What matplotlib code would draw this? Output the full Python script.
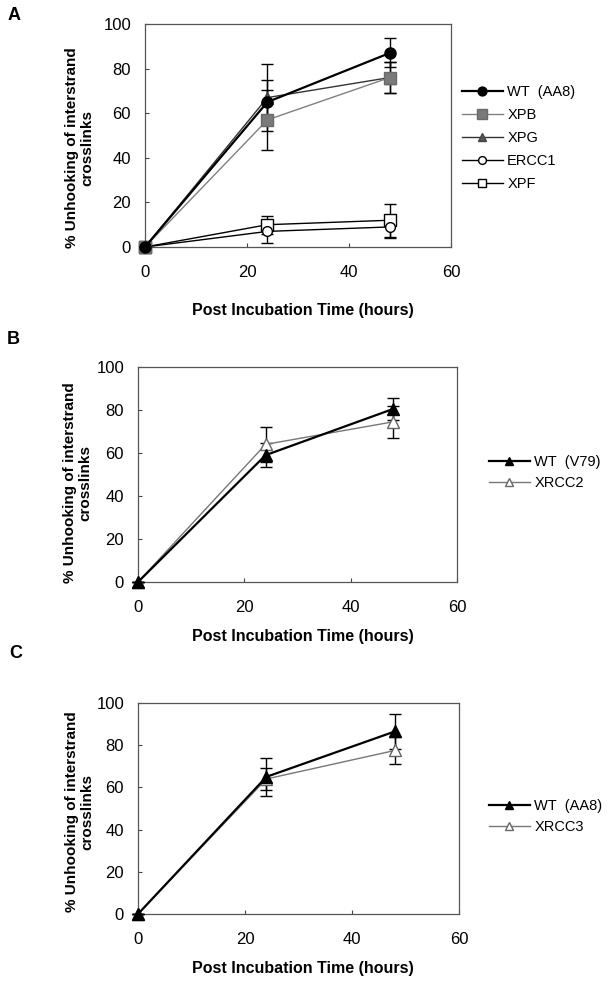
import matplotlib
matplotlib.use('Agg')
import matplotlib.pyplot as plt

plt.rcParams['font.family'] = ['Liberation Sans', 'DejaVu Sans']

# time points (hours)
time = [0, 24, 48]

# panel A
wt_aa8 = [0, 65, 87]
wt_aa8_err = [0, 10, 6.5]
xpb = [0, 57, 76]
xpb_err = [0, 13.5, 7]
xpg = [0, 67, 76]
xpg_err = [0, 15, 7]
ercc1 = [0, 7, 9]
ercc1_err = [0, 5, 5]
xpf = [0, 10, 12]
xpf_err = [0, 4, 7.5]

# panel B
wt_v79 = [0, 59, 80.5]
wt_v79_err = [0, 5.5, 5]
xrcc2 = [0, 64, 74.5]
xrcc2_err = [0, 8, 7.5]

# panel C
wt_aa8_c = [0, 65, 86.5]
wt_aa8_c_err = [0, 9, 8.5]
xrcc3 = [0, 64, 77.5]
xrcc3_err = [0, 5, 6.5]

W, H = 609, 997
fig = plt.figure(figsize=(W / 100, H / 100), dpi=100)


def px_axes(left, top, right, bottom):
    return fig.add_axes([left / W, 1 - bottom / H, (right - left) / W, (bottom - top) / H])


def style(ax):
    ax.set_xlim(0, 60)
    ax.set_ylim(0, 100)
    ax.set_xticks([0, 20, 40, 60])
    ax.set_yticks([0, 20, 40, 60, 80, 100])
    ax.tick_params(direction='in', length=3, width=0.8, labelsize=12, color='#444444')
    ax.tick_params(axis='x', pad=13)
    ax.tick_params(axis='y', pad=10)
    for s in ax.spines.values():
        s.set_color('#555555')
        s.set_linewidth(0.9)


def series(ax, y, err, marker, mfc, mec, lc, lw, ms, label):
    ax.errorbar(time, y, yerr=err, color=lc, lw=lw, marker=marker, ms=ms,
                mfc=mfc, mec=mec, mew=1.0, ecolor='black', elinewidth=1.0,
                capsize=4, capthick=1.0, label=label, clip_on=False, zorder=3)


def legend(ax, handles, names, x, y, spacing):
    ax.legend(handles, names, loc='upper left',
              bbox_to_anchor=(x / W, 1 - y / H), bbox_transform=fig.transFigure,
              frameon=False, fontsize=10.5, borderpad=0, borderaxespad=0,
              handlelength=2.8, handletextpad=0.3, labelspacing=spacing,
              markerscale=0.8)


def labels(ax, ylab_x, ylab_y, xlab_y):
    fig.text(ylab_x / W, 1 - ylab_y / H, '% Unhooking of interstrand\ncrosslinks',
             rotation=90, ha='center', va='center', multialignment='center',
             fontsize=11, fontweight='bold', linespacing=1.15)
    fig.text(303 / W, 1 - xlab_y / H, 'Post Incubation Time (hours)',
             ha='center', va='center', fontsize=11.5, fontweight='bold')


# ---------------- A ----------------
axA = px_axes(145, 24, 451, 247)
style(axA)
series(axA, xpf, xpf_err, 's', 'white', 'black', 'black', 1.0, 8, 'XPF')
series(axA, ercc1, ercc1_err, 'o', 'white', 'black', 'black', 1.0, 7, 'ERCC1')
series(axA, xpg, xpg_err, '^', '#555555', '#444444', '#333333', 1.0, 8, 'XPG')
series(axA, xpb, xpb_err, 's', '#7a7a7a', '#6a6a6a', '#808080', 1.0, 9, 'XPB')
series(axA, wt_aa8, wt_aa8_err, 'o', 'black', 'black', 'black', 1.6, 8, 'WT  (AA8)')
h, l = axA.get_legend_handles_labels()
order = [4, 3, 2, 1, 0]
legend(axA, [h[i][0] for i in order], [l[i] for i in order], 462, 85, 0.62)
labels(axA, 80, 148, 310)
fig.text(8 / W, 1 - 16 / H, 'A', fontsize=13, fontweight='bold', va='center')

# ---------------- B ----------------
axB = px_axes(138, 367, 457, 582)
style(axB)
series(axB, xrcc2, xrcc2_err, '^', 'white', '#666666', '#777777', 1.0, 8, 'XRCC2')
series(axB, wt_v79, wt_v79_err, '^', 'black', 'black', 'black', 1.6, 8, 'WT  (V79)')
h, l = axB.get_legend_handles_labels()
legend(axB, [h[1][0], h[0][0]], [l[1], l[0]], 489, 455, 0.5)
labels(axB, 78, 483, 637)
fig.text(7 / W, 1 - 340 / H, 'B', fontsize=13, fontweight='bold', va='center')

# ---------------- C ----------------
axC = px_axes(138, 703, 459, 914)
style(axC)
series(axC, xrcc3, xrcc3_err, '^', 'white', '#666666', '#777777', 1.0, 8, 'XRCC3')
series(axC, wt_aa8_c, wt_aa8_c_err, '^', 'black', 'black', 'black', 1.6, 8, 'WT  (AA8)')
h, l = axC.get_legend_handles_labels()
legend(axC, [h[1][0], h[0][0]], [l[1], l[0]], 489, 799, 0.5)
labels(axC, 80, 812, 968)
fig.text(9 / W, 1 - 653 / H, 'C', fontsize=13, fontweight='bold', va='center')

fig.savefig('out.png', dpi=100, facecolor='white')
